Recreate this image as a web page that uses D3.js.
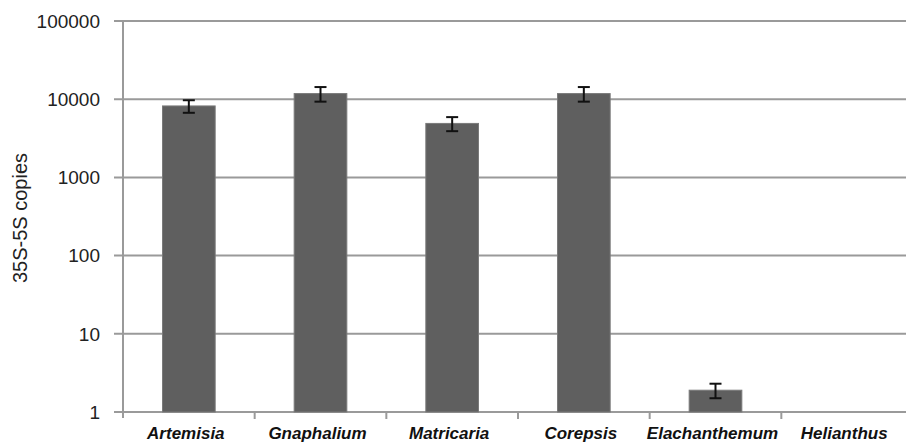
<!DOCTYPE html>
<html>
<head>
<meta charset="utf-8">
<script src="https://cdn.jsdelivr.net/npm/d3@7"></script>
<style>
  body { margin: 0; background: #fff; }
  text { font-family: "Liberation Sans", Arial, sans-serif; }
</style>
</head>
<body>
<div id="chart"></div>
<script>
// data
const genera = ["Artemisia", "Gnaphalium", "Matricaria", "Corepsis", "Elachanthemum", "Helianthus"];
const copies = [8200, 11800, 4900, 11800, 1.9, 1];
const errors = [1500, 2500, 1000, 2500, 0.4, 0];
const yTicks = [1, 10, 100, 1000, 10000, 100000];

const width = 906, height = 444;
const plotLeft = 123, plotRight = 913, plotTop = 21, plotBottom = 412;

const svg = d3.select("#chart")
    .append("svg")
    .attr("width", width)
    .attr("height", height);

const x = d3.scaleBand()
    .domain(genera)
    .range([plotLeft, plotRight])
    .paddingInner(0.6)
    .paddingOuter(0.3);

// band boundaries for the category ticks
const xb = d3.scaleBand().domain(genera).range([plotLeft, plotRight]);

const y = d3.scaleLog()
    .domain([1, 100000])
    .range([plotBottom, plotTop]);

// gridlines
svg.append("g")
    .selectAll("line")
    .data(yTicks)
    .enter()
    .append("line")
    .attr("x1", plotLeft - 9)
    .attr("x2", plotRight)
    .attr("y1", d => y(d))
    .attr("y2", d => y(d))
    .attr("stroke", "#9a9a9a")
    .attr("stroke-width", 2);

// y axis line
svg.append("line")
    .attr("x1", plotLeft).attr("x2", plotLeft)
    .attr("y1", plotTop).attr("y2", plotBottom + 6)
    .attr("stroke", "#9a9a9a")
    .attr("stroke-width", 2);

// y tick labels
svg.append("g")
    .selectAll("text")
    .data(yTicks)
    .enter()
    .append("text")
    .attr("x", plotLeft - 23)
    .attr("y", d => y(d))
    .attr("dy", "0.36em")
    .attr("text-anchor", "end")
    .attr("font-family", "DejaVu Sans, sans-serif")
    .attr("font-size", 19)
    .attr("fill", "#222")
    .text(d => d);

// category ticks
svg.append("g")
    .selectAll("line")
    .data(genera.slice(1))
    .enter()
    .append("line")
    .attr("x1", d => xb(d)).attr("x2", d => xb(d))
    .attr("y1", plotBottom).attr("y2", plotBottom + 7)
    .attr("stroke", "#9a9a9a")
    .attr("stroke-width", 2);

// bars
svg.append("g")
    .selectAll("rect")
    .data(genera)
    .enter()
    .append("rect")
    .attr("x", d => x(d))
    .attr("width", x.bandwidth())
    .attr("y", (d, i) => y(copies[i]))
    .attr("height", (d, i) => plotBottom - y(copies[i]))
    .attr("fill", "#5f5f5f")
    .attr("stroke", "#7a7a7a")
    .attr("stroke-width", 1);

// error bars
const eb = svg.append("g")
    .attr("stroke", "#111")
    .attr("stroke-width", 2);

genera.forEach((g, i) => {
    if (errors[i] <= 0) return;
    const cx = x(g) + x.bandwidth() / 2;
    const hi = y(copies[i] + errors[i]);
    const lo = y(copies[i] - errors[i]);
    eb.append("line").attr("x1", cx).attr("x2", cx).attr("y1", hi).attr("y2", lo);
    eb.append("line").attr("x1", cx - 6).attr("x2", cx + 6).attr("y1", hi).attr("y2", hi);
    eb.append("line").attr("x1", cx - 6).attr("x2", cx + 6).attr("y1", lo).attr("y2", lo);
});

// category labels
svg.append("g")
    .selectAll("text")
    .data(genera)
    .enter()
    .append("text")
    .attr("x", d => xb(d) + xb.bandwidth() / 2 - 3)
    .attr("y", 439)
    .attr("text-anchor", "middle")
    .attr("font-size", 17)
    .attr("font-weight", "bold")
    .attr("font-style", "italic")
    .attr("fill", "#111")
    .text(d => d);

// y axis title
svg.append("text")
    .attr("transform", "translate(27," + 218 + ") rotate(-90)")
    .attr("text-anchor", "middle")
    .attr("font-size", 20)
    .attr("fill", "#222")
    .text("35S-5S copies");
</script>
</body>
</html>
